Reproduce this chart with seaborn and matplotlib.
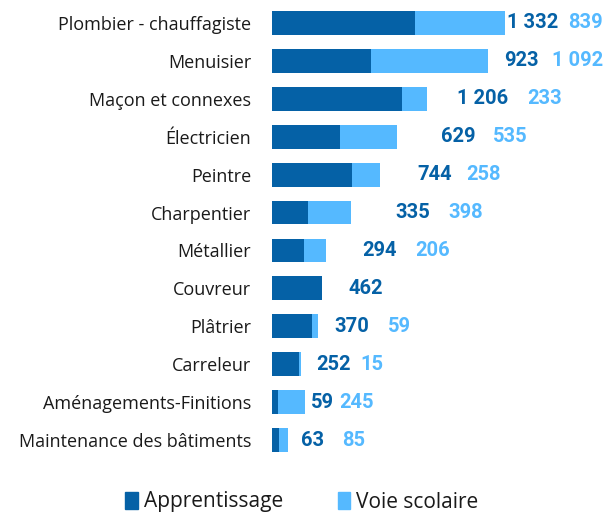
import numpy as np
import pandas as pd
import matplotlib.pyplot as plt
import seaborn as sns
from matplotlib.patches import Patch

# Data
metiers = ['Plombier - chauffagiste', 'Menuisier', 'Maçon et connexes', 'Électricien',
           'Peintre', 'Charpentier', 'Métallier', 'Couvreur', 'Plâtrier', 'Carreleur',
           'Aménagements-Finitions', 'Maintenance des bâtiments']
apprentissage = [1332, 923, 1206, 629, 744, 335, 294, 462, 370, 252, 59, 63]
voie_scolaire = [839, 1092, 233, 535, 258, 398, 206, 0, 59, 15, 245, 85]

# label placement (pixels right of the bar end), mimics the original layout
dark_dx = [27, 33, 56, 61, 55, 62, 54, 44, 34, 33, 18, 25]
light_dx = [80, 89, 118, 113, 104, 115, 107, 0, 81, 71, 52, 66]

DARK = '#0561a6'
LIGHT = '#55b9ff'

df = pd.DataFrame({'Métier': metiers, 'Apprentissage': apprentissage,
                   'Voie scolaire': voie_scolaire})
df['Total'] = df['Apprentissage'] + df['Voie scolaire']

sns.set_style('white')
plt.rcParams['font.family'] = ['Open Sans', 'DejaVu Sans']

fig = plt.figure(figsize=(6.05, 5.12), dpi=100)
ax = fig.add_axes([272 / 605, 53 / 512, 333 / 605, 455 / 512])

sns.barplot(data=df, x='Total', y='Métier', color=LIGHT, width=0.63,
            orient='h', ax=ax, saturation=1, linewidth=0)
sns.barplot(data=df, x='Apprentissage', y='Métier', color=DARK, width=0.63,
            orient='h', ax=ax, saturation=1, linewidth=0)

ax.set_xlim(0, 3100)
ax.set_ylim(11.5, -0.5)
ax.set_xlabel('')
ax.set_ylabel('')
ax.set_xticks([])
ax.tick_params(axis='y', length=0, pad=15, labelsize=13, labelcolor='#1a1a1a')
for s in ax.spines.values():
    s.set_visible(False)

for i, row in df.iterrows():
    ax.annotate(f"{row['Apprentissage']:,}".replace(',', ' '),
                xy=(row['Total'], i), xytext=(dark_dx[i] * 0.72, 0),
                textcoords='offset points', ha='center', va='center',
                fontsize=14.5, fontweight='bold', color=DARK, family='Roboto')
    if row['Voie scolaire'] > 0:
        ax.annotate(f"{row['Voie scolaire']:,}".replace(',', ' '),
                    xy=(row['Total'], i), xytext=(light_dx[i] * 0.72, 0),
                    textcoords='offset points', ha='center', va='center',
                    fontsize=14.5, fontweight='bold', color=LIGHT, family='Roboto')

handles = [Patch(color=DARK, label='Apprentissage'),
           Patch(color=LIGHT, label='Voie scolaire')]
fig.legend(handles=handles, loc='center', bbox_to_anchor=(302 / 605, 1 - 502 / 512),
           ncol=2, frameon=False, fontsize=15, handlelength=0.6, handleheight=0.9,
           handletextpad=0.3, columnspacing=2.6, labelcolor='#1a1a1a')

fig.savefig('out.png', dpi=100)
